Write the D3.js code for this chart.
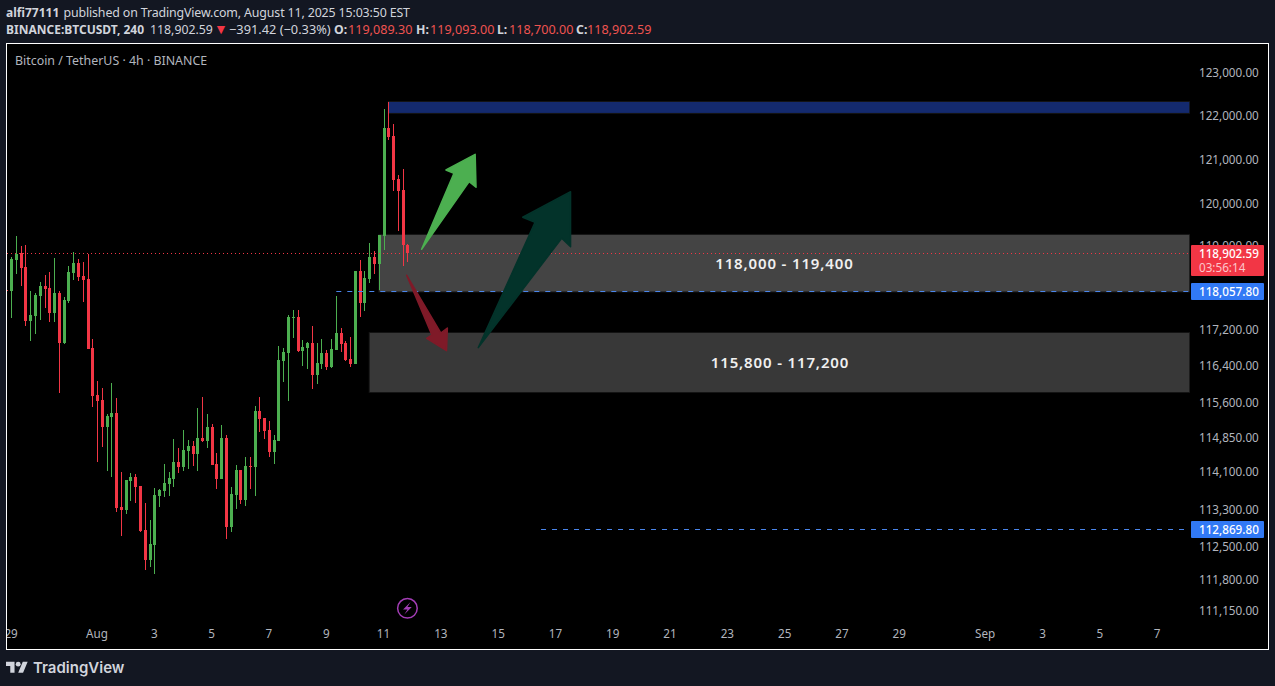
<!DOCTYPE html>
<html><head><meta charset="utf-8">
<script src="https://d3js.org/d3.v7.min.js"></script>
<style>
html,body{margin:0;padding:0;background:#131722;overflow:hidden}
text{font-family:"Noto Sans",sans-serif}
</style></head><body><svg id="c" width="1275" height="686"></svg>
<script>
const barOpen=[118100,118070,118755,118910,118600,117383,117497,117955,118180,118136,117566,118023,116892,117840,118467,118688,118401,118335,116782,115753,115644,115058,115275,115362,113341,113277,113896,113981,113789,112849,112213,112531,113576,113683,113832,113939,114303,114196,114540,114647,114475,114820,114755,115058,114260,113939,114820,112913,113597,114131,113491,114217,114196,115405,115253,114993,114518,114755,116497,116672,117451,117474,116716,116782,116892,116190,116431,116672,116365,116738,117112,116892,116541,116431,118512,117794,118335,118821,118666,119278,121703,121520,120538,120288,119089.30];
const barHigh=[118100,118821,119278,119061,119083,118070,118023,118269,118423,118490,118799,118070,117932,118622,118931,118777,118710,118887,116980,116059,115906,115340,116015,115688,114088,113917,114067,114045,113789,113427,113063,113747,113725,114260,114088,114799,114604,114993,114777,114755,115470,115710,115340,115123,114497,115101,114885,113768,114239,114131,114410,114410,115514,115710,115253,115188,114885,116826,116782,117520,117635,117635,116958,116914,117269,116892,116980,116738,116980,117955,117223,116936,117024,118512,118755,118512,119126,118953,119300,122139,122300,121795,120629,120766,119093];
const barLow=[118070,117451,118445,118180,117269,116936,117090,117406,117680,117360,117360,115797,116870,117794,118313,118291,117817,116760,115492,114303,114626,114110,113981,113234,112721,113191,113470,113427,112806,112002,112065,111918,113341,113555,113576,113768,114067,114110,114153,114217,114110,114734,114604,114239,113725,113939,112658,112806,113298,113405,113363,113725,113576,114950,114799,114410,114260,114755,116037,115622,117002,116694,116387,116322,115884,115993,116322,116300,116344,116738,116694,116497,116365,116431,117474,117611,118247,118445,118092,118975,121428,120265,119386,118622,118700];
const barClose=[118070,118777,118887,118578,117383,117520,117978,118180,118114,117566,118023,116892,117863,118490,118688,118379,118313,116760,115732,115622,115058,115297,115362,113320,113277,113917,113981,113768,112828,112213,112552,113597,113704,113853,113960,114303,114196,114561,114647,114475,114820,114755,115058,114239,113939,114820,112913,113619,114131,113491,114217,114196,115405,115232,114972,114518,114777,116519,116694,117474,117474,116716,116804,116892,116190,116453,116672,116365,116760,117112,116870,116519,116431,118512,117794,118357,118821,118666,119300,121703,121497,120515,120265,119083,118902.59];
const firstBar="2025-07-28T20:00:00Z";

const priceTicks=[123000,122000,121000,120000,119000,117200,116400,115600,114850,114100,113300,112500,111800,111150];
const dateTicks=["2025-07-29","2025-08-01","2025-08-03","2025-08-05","2025-08-07","2025-08-09","2025-08-11","2025-08-13","2025-08-15","2025-08-17","2025-08-19","2025-08-21","2025-08-23","2025-08-25","2025-08-27","2025-08-29","2025-09-01","2025-09-03","2025-09-05","2025-09-07"];
const dateLabels=["29","Aug","3","5","7","9","11","13","15","17","19","21","23","25","27","29","Sep","3","5","7"];

const lastPrice=118902.59, limitPrice=118057.80, lowerLine=112869.80;
const zoneNames=["blue","upper","lower"];
const zoneStart=["2025-08-11T04:00:00Z","2025-08-10T20:00:00Z","2025-08-10T12:00:00Z"];
const zoneEnd="2025-09-08T02:30:00Z";
const zoneTop=[122300,119300,117112];
const zoneBottom=[122048,limitPrice,115818];
const zoneColors=["#142a6e","#444444","#383838"];
const zoneText=["","118,000 - 119,400","115,800 - 117,200"];

// arrow outlines: [days after 29 Jul, price]
const arrowGreen=[[14.31,118990],[15.97,120477],[16.21,120350],[16.18,121100],[15.16,120743],[15.44,120665]];
const arrowRed=[[13.79,118416],[14.98,117112],[15.21,117223],[15.18,116723],[14.49,116995],[14.67,117068]];
const arrowTeal=[[16.29,116789],[19.2,119228],[19.51,119046],[19.51,120250],[17.84,119683],[18.27,119575]];

const W=1275,H=686;
const svg=d3.select("#c");
const x=d3.scaleUtc().domain([new Date("2025-07-29"),new Date("2025-09-07")]).range([11.6,1157.6]);
const y=d3.scaleLog().domain([123000,120000,lastPrice,limitPrice,117200,lowerLine,111150]).range([71.7,202.7,253.3,291.5,329,529,609.7]);
const day0=new Date("2025-07-29").getTime();
const ax=d=>x(new Date(day0+d*864e5));
const bars=barOpen.map((o,i)=>({t:d3.utcHour.offset(new Date(firstBar),i*4),o,h:barHigh[i],l:barLow[i],c:barClose[i]}));

const up="#4caf50",down="#f23645",grey="#b2b5be",lineBlue="#4a86ec";

svg.append("rect").attr("width",W).attr("height",H).attr("fill","#131722");
svg.append("rect").attr("x",6.5).attr("y",43.5).attr("width",1262).attr("height",606).attr("fill","#000").attr("stroke","#fff").attr("stroke-width",1);
const defs=svg.append("defs");
defs.append("clipPath").attr("id","plot").append("rect").attr("x",7).attr("y",44).attr("width",1183).attr("height",605);
defs.append("clipPath").attr("id","frame").append("rect").attr("x",7).attr("y",44).attr("width",1261).attr("height",605);

const plot=svg.append("g").attr("clip-path","url(#plot)");

// zones
const zones=zoneNames.map((n,i)=>({n,s:new Date(zoneStart[i]),top:zoneTop[i],bot:zoneBottom[i],col:zoneColors[i],txt:zoneText[i]}));
plot.append("g").selectAll("rect").data(zones).join("rect")
  .attr("x",d=>x(d.s)).attr("width",d=>x(new Date(zoneEnd))-x(d.s))
  .attr("y",d=>y(d.top)).attr("height",d=>y(d.bot)-y(d.top))
  .attr("fill",d=>d.col).attr("stroke","#141414").attr("stroke-width",2).attr("paint-order","stroke");

// candles
const cg=plot.append("g").selectAll("g").data(bars).join("g").attr("fill",d=>d.c>=d.o?up:down);
cg.append("rect").attr("class","wick")
  .attr("x",d=>Math.round(x(d.t)-1.5)+1).attr("width",1)
  .attr("y",d=>Math.round(y(d.h))).attr("height",d=>Math.max(1,Math.round(y(d.l))-Math.round(y(d.h))));
cg.append("rect").attr("class","body")
  .attr("x",d=>Math.round(x(d.t)-1.5)).attr("width",3)
  .attr("y",d=>Math.round(y(Math.max(d.o,d.c)))).attr("height",d=>Math.max(1,Math.round(y(Math.min(d.o,d.c)))-Math.round(y(Math.max(d.o,d.c)))));

// price lines
plot.append("line").attr("x1",7).attr("x2",1190).attr("y1",y(lastPrice)+.2).attr("y2",y(lastPrice)+.2)
  .attr("stroke",down).attr("stroke-width",1).attr("stroke-dasharray","1 3");
plot.append("line").attr("x1",x(new Date("2025-08-09T08:00:00Z"))).attr("x2",1190).attr("y1",y(limitPrice)).attr("y2",y(limitPrice))
  .attr("stroke",lineBlue).attr("stroke-width",1).attr("stroke-dasharray","5 6");
plot.append("line").attr("x1",x(new Date("2025-08-16T11:30:00Z"))).attr("x2",1184).attr("y1",y(lowerLine)+.5).attr("y2",y(lowerLine)+.5)
  .attr("stroke",lineBlue).attr("stroke-width",1).attr("stroke-dasharray","5 6");

// arrows
const poly=d3.line().x(d=>ax(d[0])).y(d=>y(d[1])).curve(d3.curveLinearClosed);
[[arrowGreen,"#4caf50"],[arrowRed,"#7f1a28"],[arrowTeal,"#03332a"]].forEach(([a,c])=>{
  plot.append("path").attr("d",poly(a)).attr("fill",c).attr("stroke",c).attr("stroke-width",1.5).attr("stroke-linejoin","round");
});

// zone labels
plot.append("g").selectAll("text").data(zones.filter(d=>d.txt)).join("text")
  .text(d=>d.txt).attr("text-anchor","middle")
  .attr("x",(d,i)=>[784.4,780][i]).attr("y",d=>(y(d.top)+y(d.bot))/2+5.5)
  .attr("fill","#f0f0f0").attr("font-weight",600).attr("font-size",15).attr("letter-spacing",.85);

// axes
const yAxis=d3.axisRight(y).tickValues(priceTicks).tickFormat(d3.format(",.2f")).tickSize(0).tickPadding(0);
const gy=svg.append("g").attr("transform","translate(1199,0.5)").call(yAxis);
gy.select(".domain").remove();
gy.selectAll("text").attr("fill",grey).attr("font-size",11.7).attr("dy",d=>d===119000?"0.04em":"0.34em");

const xAxis=d3.axisBottom(x).tickValues(dateTicks.map(d=>new Date(d))).tickFormat((d,i)=>dateLabels[i]).tickSize(0).tickPadding(0);
const gx=svg.append("g").attr("clip-path","url(#frame)").append("g").attr("transform","translate(-1,630)").call(xAxis);
gx.select(".domain").remove();
gx.selectAll("text").attr("fill",grey).attr("font-size",11.7).attr("dy","0.71em");

// price labels
function tag(top,h,col,label,sub){
  svg.append("rect").attr("x",1191).attr("y",top).attr("width",73).attr("height",h).attr("fill",col).attr("rx",1);
  svg.append("text").attr("x",1199).attr("y",top+12.5).text(label).attr("fill","#fff").attr("font-size",11.7).attr("font-weight",500);
  if(sub) svg.append("text").attr("x",1199).attr("y",top+26.5).text(sub).attr("fill","#fcc6cb").attr("font-size",11.7);
}
const fmt=d3.format(",.2f");
tag(245,31,down,fmt(lastPrice),"03:56:14");
tag(283,17,"#3179f5",fmt(limitPrice));
tag(521,17,"#3179f5",fmt(lowerLine));

// lightning marker
const lx=x(bars[bars.length-1].t)-.5, ly=608.3;
svg.append("circle").attr("cx",lx).attr("cy",ly).attr("r",9.8).attr("fill","none").attr("stroke","#a33db5").attr("stroke-width",1.5);
svg.append("path").attr("transform",`translate(${lx},${ly}) scale(1.25)`).attr("d","M2.5 -5 L-3.5 1 L0 1 L-2.5 5 L3.5 -1 L0 -1 Z").attr("fill","#a33db5");

// header
svg.append("text").attr("x",6).attr("y",16.6).attr("font-size",12).attr("font-weight",700).attr("fill","#d1d4dc").text("alfi77111");
svg.append("text").attr("x",63.5).attr("y",16.6).attr("font-size",12.4).attr("fill","#d1d4dc")
  .attr("textLength",346.5).attr("lengthAdjust","spacing").text("published on TradingView.com, August 11, 2025 15:03:50 EST");
const h2=svg.append("text").attr("y",34.3).attr("font-size",12.3).attr("fill","#d1d4dc");
h2.append("tspan").text("BINANCE:BTCUSDT, 240").attr("x",6).attr("font-weight",700).attr("font-size",12);
h2.append("tspan").text("118,902.59").attr("x",150);
h2.append("tspan").text("▼").attr("x",214).attr("fill","#f23645").attr("font-size",14);
h2.append("tspan").text("−391.42 (−0.33%)").attr("x",229).attr("font-size",12.8);
[["O:","119,089.30",334,348],["H:","119,093.00",416,430],["L:","118,700.00",497,509],["C:","118,902.59",576,587]].forEach(([a,b,xa,xb])=>{
  h2.append("tspan").text(a).attr("x",xa).attr("font-weight",700);
  h2.append("tspan").text(b).attr("x",xb).attr("fill","#ef5350").attr("font-size",12.6);
});
svg.append("text").attr("x",15).attr("y",65).attr("font-size",12.4).attr("fill",grey).text("Bitcoin / TetherUS · 4h · BINANCE");

// brand
svg.append("g").attr("transform","translate(6,659.3) scale(.61)").attr("fill","#d1d4dc").call(g=>{
  g.append("path").attr("d","M14 22H7V11H0V4h14v18zM28 22h-8l7.5-18h8L28 22z");
  g.append("circle").attr("cx",20).attr("cy",8).attr("r",4);
});
svg.append("text").attr("x",33).attr("y",672.5).attr("font-size",15).attr("font-weight",600).attr("fill","#d1d4dc").style("font-family","Inter").text("TradingView");
</script></body></html>
